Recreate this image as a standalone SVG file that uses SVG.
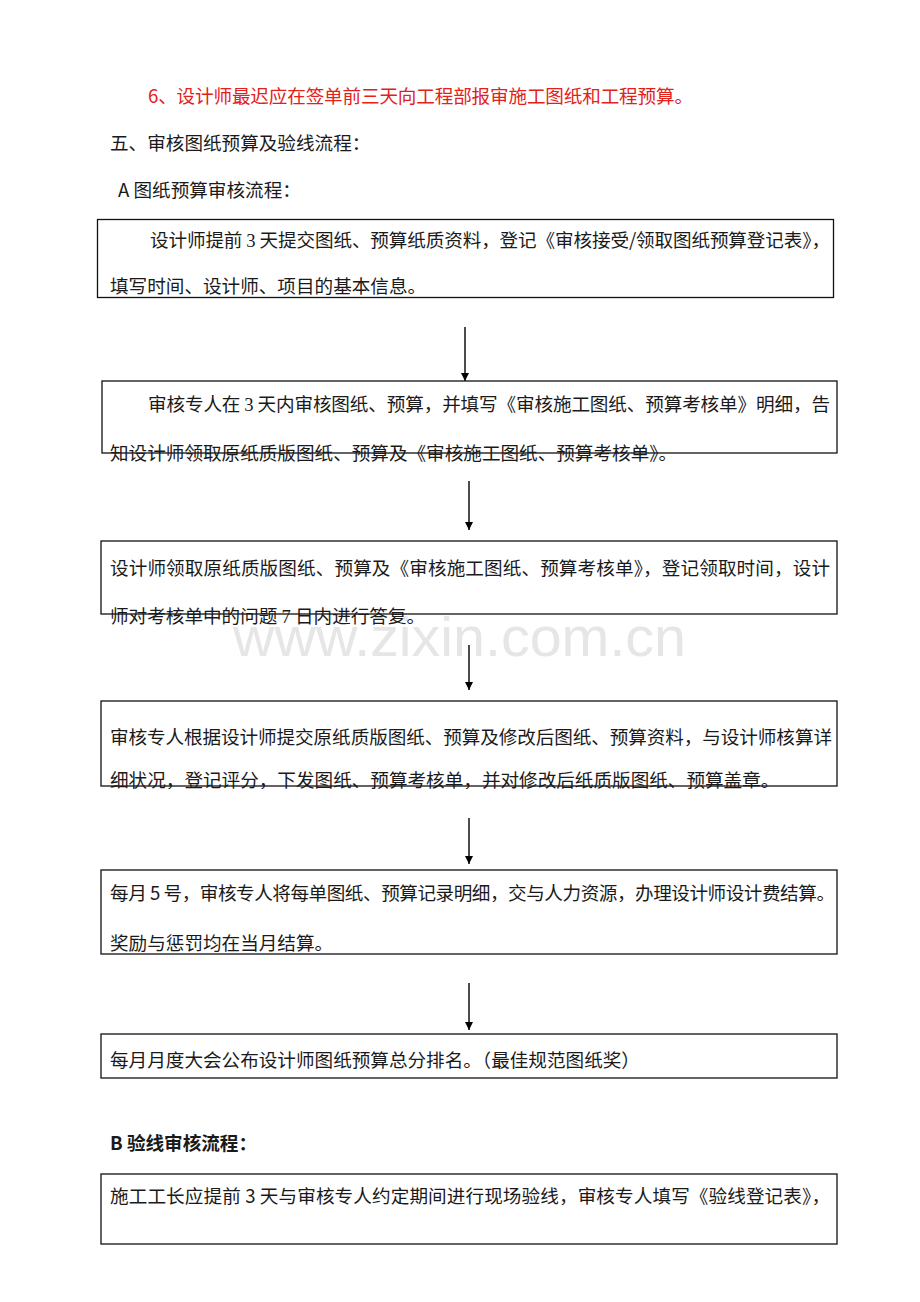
<svg xmlns="http://www.w3.org/2000/svg" width="920" height="1302" viewBox="0 0 920 1302">
<style>
.t{font-family:"Noto Sans CJK SC","Noto Sans",sans-serif;font-size:18.6px;fill:#1a1a1a;}
.red{fill:#e3211b;}
.box{fill:none;stroke:#111;stroke-width:1.3;}
.arr{stroke:#000;stroke-width:1.4;fill:none;}
.num{font-family:"Liberation Serif",serif;}
.wm{font-family:"Liberation Sans",Arial,sans-serif;font-size:56px;fill:#e6e6e6;}
</style>
<defs>
<marker id="ah" viewBox="0 0 10 10" refX="10" refY="5" markerWidth="8" markerHeight="8" markerUnits="userSpaceOnUse" orient="auto">
<path d="M0,0 L10,5 L0,10 Z" fill="#000"/>
</marker>
</defs>
<rect width="920" height="1302" fill="#fff"/>
<text class="wm" x="233" y="656" textLength="453" lengthAdjust="spacingAndGlyphs">www.zixin.com.cn</text>
<g id="header">
<text class="t red" x="148" y="103" textLength="545" lengthAdjust="spacing">6、设计师最迟应在签单前三天向工程部报审施工图纸和工程预算。</text>
<text class="t" x="110" y="150">五、审核图纸预算及验线流程：</text>
<text class="t" x="118" y="197">A 图纸预算审核流程：</text>
</g>
<g id="connectors">
<line class="arr" x1="465" y1="327" x2="465" y2="381" marker-end="url(#ah)"/>
<line class="arr" x1="469" y1="481" x2="469" y2="530" marker-end="url(#ah)"/>
<line class="arr" x1="469" y1="645" x2="469" y2="690" marker-end="url(#ah)"/>
<line class="arr" x1="469" y1="818" x2="469" y2="864" marker-end="url(#ah)"/>
<line class="arr" x1="469" y1="983" x2="469" y2="1030" marker-end="url(#ah)"/>
</g>
<g id="n1">
<rect class="box" x="97.5" y="219.5" width="736" height="78"/>
<text class="t" x="150" y="247" textLength="680" lengthAdjust="spacing">设计师提前 <tspan class="num">3</tspan> 天提交图纸、预算纸质资料，登记《审核接受/领取图纸预算登记表》，</text>
<text class="t" x="110" y="293">填写时间、设计师、项目的基本信息。</text>
</g>
<g id="n2">
<rect class="box" x="102" y="381" width="735" height="72"/>
<text class="t" x="148" y="411" textLength="682" lengthAdjust="spacing">审核专人在 <tspan class="num">3</tspan> 天内审核图纸、预算，并填写《审核施工图纸、预算考核单》明细，告</text>
<text class="t" x="110" y="460">知设计师领取原纸质版图纸、预算及《审核施工图纸、预算考核单》。</text>
</g>
<g id="n3">
<rect class="box" x="101" y="541" width="736" height="73"/>
<text class="t" x="110" y="575" textLength="720" lengthAdjust="spacing">设计师领取原纸质版图纸、预算及《审核施工图纸、预算考核单》，登记领取时间，设计</text>
<text class="t" x="110" y="623">师对考核单中的问题 <tspan class="num">7</tspan> 日内进行答复。</text>
</g>
<g id="n4">
<rect class="box" x="101" y="701" width="736" height="85"/>
<text class="t" x="110" y="744" textLength="722" lengthAdjust="spacing">审核专人根据设计师提交原纸质版图纸、预算及修改后图纸、预算资料，与设计师核算详</text>
<text class="t" x="110" y="787">细状况，登记评分，下发图纸、预算考核单，并对修改后纸质版图纸、预算盖章。</text>
</g>
<g id="n5">
<rect class="box" x="101" y="870" width="736" height="84"/>
<text class="t" x="110" y="900" textLength="725" lengthAdjust="spacing">每月 5 号，审核专人将每单图纸、预算记录明细，交与人力资源，办理设计师设计费结算。</text>
<text class="t" x="110" y="950">奖励与惩罚均在当月结算。</text>
</g>
<g id="n6">
<rect class="box" x="101" y="1034" width="736" height="44"/>
<text class="t" x="110" y="1067">每月月度大会公布设计师图纸预算总分排名。（最佳规范图纸奖）</text>
</g>
<g id="sectionB">
<text class="t" x="110" y="1150" font-weight="bold">B 验线审核流程：</text>
</g>
<g id="n7">
<rect class="box" x="101" y="1174" width="736" height="70"/>
<text class="t" x="110" y="1203" textLength="720" lengthAdjust="spacing">施工工长应提前 3 天与审核专人约定期间进行现场验线，审核专人填写《验线登记表》，</text>
</g>
</svg>
